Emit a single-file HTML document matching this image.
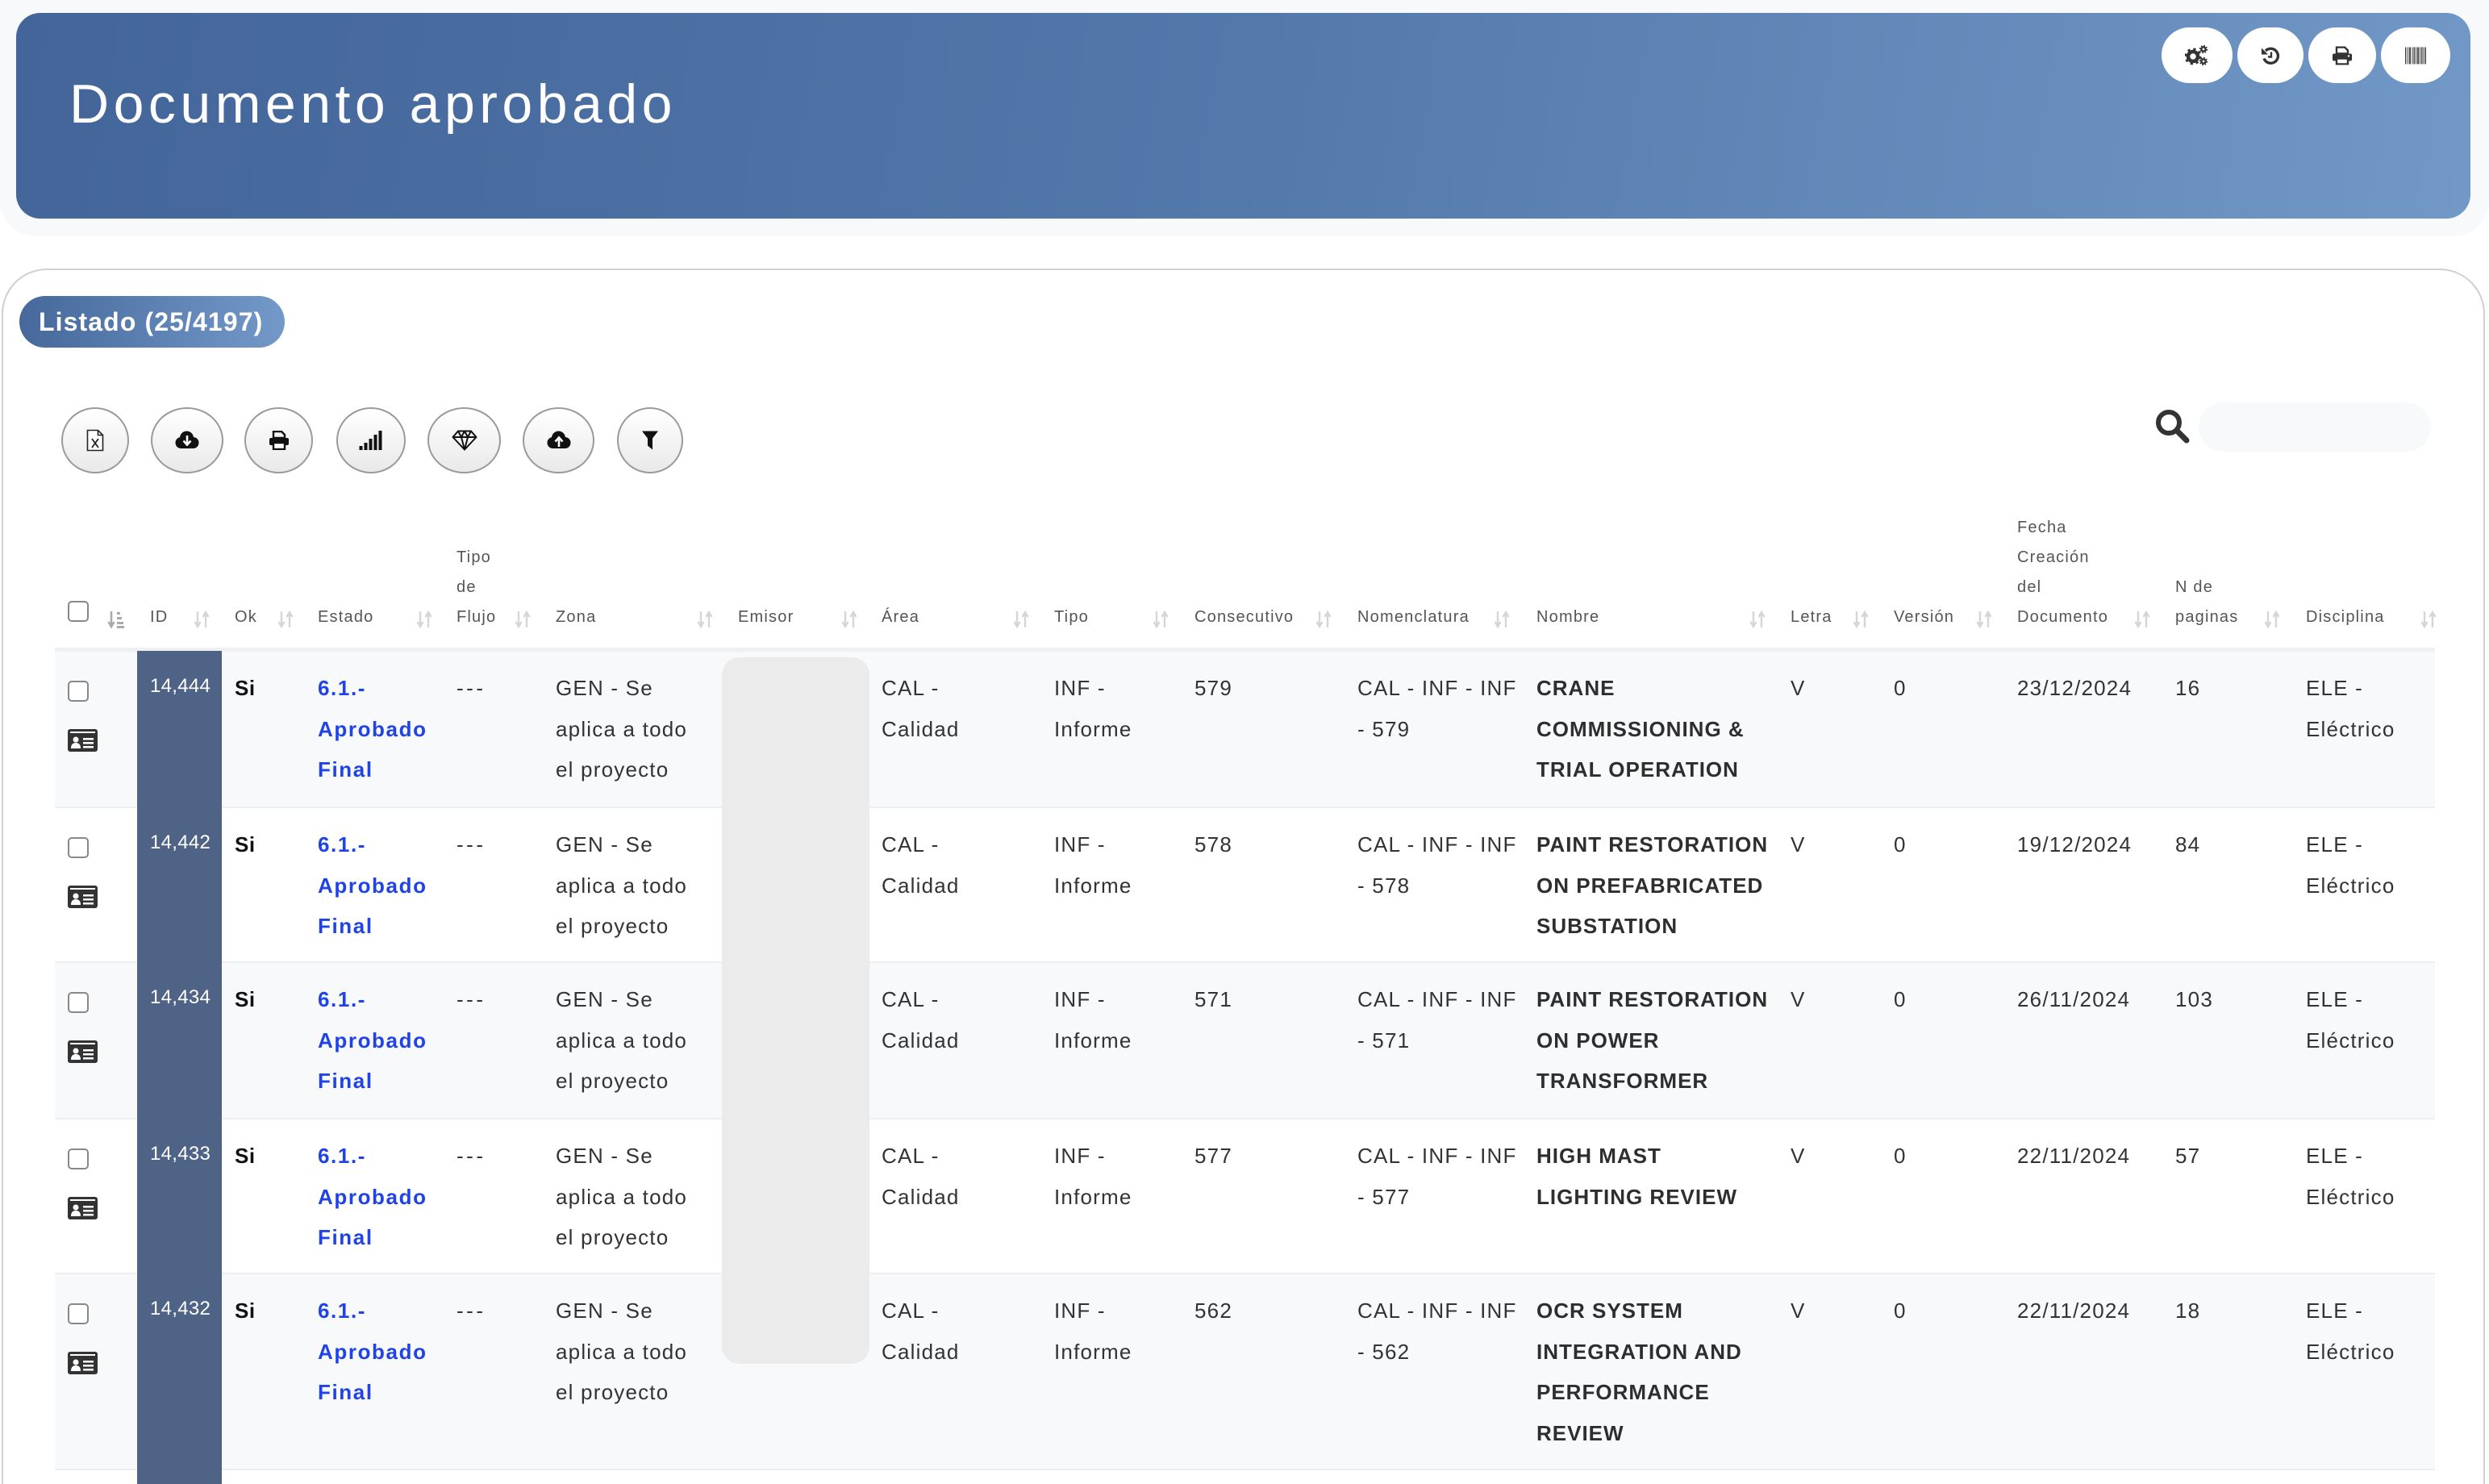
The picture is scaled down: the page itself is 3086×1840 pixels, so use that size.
<!DOCTYPE html>
<html style="overflow:hidden"><head><meta charset="utf-8">
<style>
html,body{margin:0;padding:0;overflow:hidden;width:3086px;height:1840px}
body{background:#fff;font-family:"Liberation Sans",sans-serif}
#root{position:relative;width:3086px;height:1840px;overflow:hidden;background:#fff}
.abs{position:absolute}
.h{position:absolute;font-size:20px;line-height:37px;color:#555;letter-spacing:1.2px;white-space:nowrap}
.s{position:absolute;top:757px}
.row{position:absolute;left:68px;width:2951px;box-sizing:border-box;border-bottom:2px solid #eceef1}
.odd{background:#f8f9fb}
.t{position:absolute;top:20px;font-size:26px;line-height:50.5px;color:#333;letter-spacing:1.2px;white-space:nowrap;z-index:2}
.si{font-weight:bold;color:#111;letter-spacing:0.5px}
.blue{color:#1f43e6;font-weight:bold;letter-spacing:1.6px}
.nm{font-weight:bold;color:#2e2e2e;letter-spacing:1px}
.id{font-size:24px;color:#fff;top:18px;letter-spacing:0.3px}
.dash{letter-spacing:3.5px}
.cb{position:absolute;left:16px;top:36px;width:22px;height:22px;border:2px solid #888;border-radius:5px;background:#fff;z-index:2}
.card{position:absolute;left:16px;top:96px;z-index:2}
.tb{position:absolute;top:505px;height:82px;border-radius:50%;box-sizing:border-box;border:2px solid #9a9a9a;background:linear-gradient(#ffffff,#e9e9e9)}
.tb svg{position:absolute;left:50%;top:50%;transform:translate(-50%,-50%)}
.hb{position:absolute;top:34px;height:69px;border-radius:35px;background:#fff}
.hb svg{position:absolute;left:50%;top:50%;transform:translate(-50%,-50%)}
</style></head><body><div id="root">

<!-- top header -->
<div class="abs" style="left:0;top:0;width:3086px;height:293px;background:#f7f9fb;border-radius:0 0 44px 44px"></div>
<div class="abs" style="left:20px;top:16px;width:3043px;height:255px;border-radius:30px;background:linear-gradient(100deg,#43659a 0%,#5378aa 50%,#7298c7 100%)"></div>
<div class="abs" style="left:86px;top:95px;font-size:68px;line-height:68px;color:#fff;letter-spacing:5.5px;white-space:nowrap">Documento aprobado</div>

<div class="hb" style="left:2680px;width:88px">
<svg width="30" height="26" viewBox="0 0 30 26"><circle cx="10" cy="14" r="6" fill="none" stroke="#333" stroke-width="4.5"/><circle cx="10" cy="14" r="9" fill="none" stroke="#333" stroke-width="3" stroke-dasharray="3.2 3.87"/><circle cx="23" cy="5" r="2.6" fill="none" stroke="#333" stroke-width="2.4"/><circle cx="23" cy="5" r="4.3" fill="none" stroke="#333" stroke-width="1.8" stroke-dasharray="1.7 1.68"/><circle cx="23" cy="20" r="2.6" fill="none" stroke="#333" stroke-width="2.4"/><circle cx="23" cy="20" r="4.3" fill="none" stroke="#333" stroke-width="1.8" stroke-dasharray="1.7 1.68"/></svg>
</div>
<div class="hb" style="left:2774px;width:82px">
<svg width="24" height="23" viewBox="0 0 24 23"><path d="M6 5.5A9 9 0 1 1 4 15" fill="none" stroke="#333" stroke-width="3.4"/><path d="M1 2v8h8z" fill="#333"/><path d="M13 7v6h-4" fill="none" stroke="#333" stroke-width="2.4"/></svg>
</div>
<div class="hb" style="left:2862px;width:84px">
<svg width="26" height="23" viewBox="0 0 26 23"><path d="M6 1h10l4 4v4H6z" fill="none" stroke="#333" stroke-width="2.4"/><rect x="1" y="9" width="24" height="9" rx="2" fill="#333"/><rect x="6" y="15" width="14" height="7" fill="#fff" stroke="#333" stroke-width="2.4"/><circle cx="21" cy="12" r="1.2" fill="#fff"/></svg>
</div>
<div class="hb" style="left:2952px;width:86px">
<svg width="26" height="21" viewBox="0 0 26 21"><g fill="#444"><rect x="0" y="0" width="1.5" height="21"/><rect x="3" y="0" width="1" height="21"/><rect x="5" y="0" width="2" height="21"/><rect x="8.5" y="0" width="1" height="21"/><rect x="10.5" y="0" width="1.5" height="21"/><rect x="13" y="0" width="1" height="21"/><rect x="15" y="0" width="2" height="21"/><rect x="18" y="0" width="1" height="21"/><rect x="20" y="0" width="1.5" height="21"/><rect x="22.5" y="0" width="1" height="21"/><rect x="24.5" y="0" width="1.5" height="21"/></g></svg>
</div>

<!-- card -->
<div class="abs" style="left:2px;top:333px;width:3079px;height:1560px;box-sizing:border-box;border:2px solid #d0d0d0;border-radius:56px"></div>
<div class="abs" style="left:24px;top:367px;width:329px;height:64px;border-radius:32px;background:linear-gradient(90deg,#46689b,#7399c9)"></div>
<div class="abs" style="left:48px;top:367px;font-size:32px;line-height:64px;font-weight:bold;color:#fff;letter-spacing:1.1px;white-space:nowrap">Listado (25/4197)</div>

<!-- toolbar -->
<div class="tb" style="left:76px;width:84px">
<svg width="22" height="28" viewBox="0 0 22 28"><path d="M1.5 1.5h13l6 6v19h-19z" fill="#fff" stroke="#222" stroke-width="1.6"/><path d="M14.5 1.5v6h6" fill="none" stroke="#222" stroke-width="1.6"/><path d="M7 12l8 11M15 12l-8 11" stroke="#222" stroke-width="1.8"/></svg>
</div>
<div class="tb" style="left:187px;width:90px">
<svg width="31" height="24" viewBox="0 0 31 24"><g fill="#111"><circle cx="8" cy="15" r="7"/><circle cx="15" cy="9" r="8.5"/><circle cx="23" cy="15" r="7"/><rect x="8" y="14" width="15" height="8"/></g><path d="M15.5 6v11M11 12.5l4.5 5 4.5-5" fill="none" stroke="#fff" stroke-width="2.6"/></svg>
</div>
<div class="tb" style="left:303px;width:85px">
<svg width="24" height="24" viewBox="0 0 24 24"><path d="M5 1h10l4 4v4H5z" fill="none" stroke="#111" stroke-width="2.4"/><rect x="0" y="9" width="24" height="9" rx="2" fill="#111"/><rect x="5" y="15" width="14" height="8" fill="#fff" stroke="#111" stroke-width="2.4"/></svg>
</div>
<div class="tb" style="left:417px;width:86px">
<svg width="29" height="24" viewBox="0 0 29 24"><g fill="#111"><rect x="0" y="19" width="4" height="5"/><rect x="6" y="15" width="4" height="9"/><rect x="12" y="10" width="4" height="14"/><rect x="18" y="5" width="4" height="19"/><rect x="24" y="0" width="4" height="24"/></g></svg>
</div>
<div class="tb" style="left:530px;width:91px">
<svg width="32" height="26" viewBox="0 0 32 26"><path d="M8 1.5h16l6.5 7.5L16 24.5 1.5 9z M1.5 9h29 M8 1.5l4 7.5 4-7.5 4 7.5 4-7.5 M12 9l4 15.5 4-15.5" fill="none" stroke="#111" stroke-width="2" stroke-linejoin="round"/></svg>
</div>
<div class="tb" style="left:648px;width:89px">
<svg width="31" height="24" viewBox="0 0 31 24"><g fill="#111"><circle cx="8" cy="15" r="7"/><circle cx="15" cy="9" r="8.5"/><circle cx="23" cy="15" r="7"/><rect x="8" y="14" width="15" height="8"/></g><path d="M15.5 20V9M11 13.5l4.5-5 4.5 5" fill="none" stroke="#fff" stroke-width="2.6"/></svg>
</div>
<div class="tb" style="left:765px;width:82px">
<svg width="20" height="23" viewBox="0 0 20 23"><path d="M0 0h20l-7 9v14l-6-5V9z" fill="#111"/></svg>
</div>

<!-- search -->
<svg class="abs" style="left:2670px;top:505px" width="48" height="48" viewBox="0 0 48 48"><circle cx="19" cy="19" r="13" fill="none" stroke="#333" stroke-width="6"/><path d="M29 29l12 12" stroke="#333" stroke-width="7" stroke-linecap="round"/></svg>
<div class="abs" style="left:2726px;top:499px;width:288px;height:61px;border-radius:31px;background:#f7f9fb"></div>

<!-- table header -->
<div class="abs" style="left:84px;top:745px;width:22px;height:22px;border:2px solid #888;border-radius:5px;background:#fff"></div>
<svg class="s" style="left:133px" width="22" height="22" viewBox="0 0 22 22"><path d="M5 1v17M1.5 14l3.5 6 3.5-6" fill="none" stroke="#aaa" stroke-width="2.6"/><g fill="#aaa"><rect x="12" y="2" width="4" height="3"/><rect x="12" y="8" width="6" height="3"/><rect x="12" y="14" width="8" height="3"/><rect x="12" y="19" width="9" height="3"/></g></svg>

<div class="h" style="left:186px;top:746.6px">ID</div>
<div class="h" style="left:291px;top:746.6px">Ok</div>
<div class="h" style="left:394px;top:746.6px">Estado</div>
<div class="h" style="left:566px;top:672.6px">Tipo<br>de<br>Flujo</div>
<div class="h" style="left:689px;top:746.6px">Zona</div>
<div class="h" style="left:915px;top:746.6px">Emisor</div>
<div class="h" style="left:1093px;top:746.6px">Área</div>
<div class="h" style="left:1307px;top:746.6px">Tipo</div>
<div class="h" style="left:1481px;top:746.6px">Consecutivo</div>
<div class="h" style="left:1683px;top:746.6px">Nomenclatura</div>
<div class="h" style="left:1905px;top:746.6px">Nombre</div>
<div class="h" style="left:2220px;top:746.6px">Letra</div>
<div class="h" style="left:2348px;top:746.6px">Versión</div>
<div class="h" style="left:2501px;top:635.6px">Fecha<br>Creación<br>del<br>Documento</div>
<div class="h" style="left:2697px;top:709.6px">N de<br>paginas</div>
<div class="h" style="left:2859px;top:746.6px">Disciplina</div>

<svg class="s" style="left:240px" width="20" height="22" viewBox="0 0 20 22"><path d="M5 1v17M1.5 14l3.5 6 3.5-6M15 21V4M11.5 8L15 2l3.5 6" fill="none" stroke="#d6d6d6" stroke-width="2.4"/></svg>
<svg class="s" style="left:344px" width="20" height="22" viewBox="0 0 20 22"><path d="M5 1v17M1.5 14l3.5 6 3.5-6M15 21V4M11.5 8L15 2l3.5 6" fill="none" stroke="#d6d6d6" stroke-width="2.4"/></svg>
<svg class="s" style="left:516px" width="20" height="22" viewBox="0 0 20 22"><path d="M5 1v17M1.5 14l3.5 6 3.5-6M15 21V4M11.5 8L15 2l3.5 6" fill="none" stroke="#d6d6d6" stroke-width="2.4"/></svg>
<svg class="s" style="left:638px" width="20" height="22" viewBox="0 0 20 22"><path d="M5 1v17M1.5 14l3.5 6 3.5-6M15 21V4M11.5 8L15 2l3.5 6" fill="none" stroke="#d6d6d6" stroke-width="2.4"/></svg>
<svg class="s" style="left:864px" width="20" height="22" viewBox="0 0 20 22"><path d="M5 1v17M1.5 14l3.5 6 3.5-6M15 21V4M11.5 8L15 2l3.5 6" fill="none" stroke="#d6d6d6" stroke-width="2.4"/></svg>
<svg class="s" style="left:1043px" width="20" height="22" viewBox="0 0 20 22"><path d="M5 1v17M1.5 14l3.5 6 3.5-6M15 21V4M11.5 8L15 2l3.5 6" fill="none" stroke="#d6d6d6" stroke-width="2.4"/></svg>
<svg class="s" style="left:1256px" width="20" height="22" viewBox="0 0 20 22"><path d="M5 1v17M1.5 14l3.5 6 3.5-6M15 21V4M11.5 8L15 2l3.5 6" fill="none" stroke="#d6d6d6" stroke-width="2.4"/></svg>
<svg class="s" style="left:1429px" width="20" height="22" viewBox="0 0 20 22"><path d="M5 1v17M1.5 14l3.5 6 3.5-6M15 21V4M11.5 8L15 2l3.5 6" fill="none" stroke="#d6d6d6" stroke-width="2.4"/></svg>
<svg class="s" style="left:1631px" width="20" height="22" viewBox="0 0 20 22"><path d="M5 1v17M1.5 14l3.5 6 3.5-6M15 21V4M11.5 8L15 2l3.5 6" fill="none" stroke="#d6d6d6" stroke-width="2.4"/></svg>
<svg class="s" style="left:1852px" width="20" height="22" viewBox="0 0 20 22"><path d="M5 1v17M1.5 14l3.5 6 3.5-6M15 21V4M11.5 8L15 2l3.5 6" fill="none" stroke="#d6d6d6" stroke-width="2.4"/></svg>
<svg class="s" style="left:2169px" width="20" height="22" viewBox="0 0 20 22"><path d="M5 1v17M1.5 14l3.5 6 3.5-6M15 21V4M11.5 8L15 2l3.5 6" fill="none" stroke="#d6d6d6" stroke-width="2.4"/></svg>
<svg class="s" style="left:2297px" width="20" height="22" viewBox="0 0 20 22"><path d="M5 1v17M1.5 14l3.5 6 3.5-6M15 21V4M11.5 8L15 2l3.5 6" fill="none" stroke="#d6d6d6" stroke-width="2.4"/></svg>
<svg class="s" style="left:2450px" width="20" height="22" viewBox="0 0 20 22"><path d="M5 1v17M1.5 14l3.5 6 3.5-6M15 21V4M11.5 8L15 2l3.5 6" fill="none" stroke="#d6d6d6" stroke-width="2.4"/></svg>
<svg class="s" style="left:2646px" width="20" height="22" viewBox="0 0 20 22"><path d="M5 1v17M1.5 14l3.5 6 3.5-6M15 21V4M11.5 8L15 2l3.5 6" fill="none" stroke="#d6d6d6" stroke-width="2.4"/></svg>
<svg class="s" style="left:2807px" width="20" height="22" viewBox="0 0 20 22"><path d="M5 1v17M1.5 14l3.5 6 3.5-6M15 21V4M11.5 8L15 2l3.5 6" fill="none" stroke="#d6d6d6" stroke-width="2.4"/></svg>
<svg class="s" style="left:3001px" width="20" height="22" viewBox="0 0 20 22"><path d="M5 1v17M1.5 14l3.5 6 3.5-6M15 21V4M11.5 8L15 2l3.5 6" fill="none" stroke="#d6d6d6" stroke-width="2.4"/></svg>

<div class="abs" style="left:68px;top:803px;width:2951px;height:5px;background:#eff0f2"></div>

<!-- rows -->
<div class="row odd" style="top:808px;height:194px">
  <div class="cb"></div>
  <svg class="card" width="37" height="28" viewBox="0 0 37 28"><rect width="37" height="28" rx="3" fill="#333"/><rect x="3" y="3" width="31" height="2" fill="#fff"/><circle cx="10" cy="13" r="3.5" fill="#fff"/><path d="M4 24q0-7 6-7q6 0 6 7z" fill="#fff"/><rect x="19" y="11" width="13" height="2.5" fill="#fff"/><rect x="19" y="16" width="13" height="2.5" fill="#fff"/><rect x="19" y="21" width="13" height="2.5" fill="#fff"/></svg>
  <div class="t id" style="left:118px">14,444</div>
  <div class="t si" style="left:223px">Si</div>
  <div class="t blue" style="left:326px">6.1.-<br>Aprobado<br>Final</div>
  <div class="t dash" style="left:498px">---</div>
  <div class="t" style="left:621px">GEN - Se<br>aplica a todo<br>el proyecto</div>
  <div class="t" style="left:1025px">CAL -<br>Calidad</div>
  <div class="t" style="left:1239px">INF -<br>Informe</div>
  <div class="t" style="left:1413px">579</div>
  <div class="t" style="left:1615px">CAL - INF - INF<br>- 579</div>
  <div class="t nm" style="left:1837px">CRANE<br>COMMISSIONING &amp;<br>TRIAL OPERATION</div>
  <div class="t" style="left:2152px">V</div>
  <div class="t" style="left:2280px">0</div>
  <div class="t" style="left:2433px">23/12/2024</div>
  <div class="t" style="left:2629px">16</div>
  <div class="t" style="left:2791px">ELE -<br>Eléctrico</div>
</div>

<div class="row" style="top:1002px;height:192px">
  <div class="cb"></div>
  <svg class="card" width="37" height="28" viewBox="0 0 37 28"><rect width="37" height="28" rx="3" fill="#333"/><rect x="3" y="3" width="31" height="2" fill="#fff"/><circle cx="10" cy="13" r="3.5" fill="#fff"/><path d="M4 24q0-7 6-7q6 0 6 7z" fill="#fff"/><rect x="19" y="11" width="13" height="2.5" fill="#fff"/><rect x="19" y="16" width="13" height="2.5" fill="#fff"/><rect x="19" y="21" width="13" height="2.5" fill="#fff"/></svg>
  <div class="t id" style="left:118px">14,442</div>
  <div class="t si" style="left:223px">Si</div>
  <div class="t blue" style="left:326px">6.1.-<br>Aprobado<br>Final</div>
  <div class="t dash" style="left:498px">---</div>
  <div class="t" style="left:621px">GEN - Se<br>aplica a todo<br>el proyecto</div>
  <div class="t" style="left:1025px">CAL -<br>Calidad</div>
  <div class="t" style="left:1239px">INF -<br>Informe</div>
  <div class="t" style="left:1413px">578</div>
  <div class="t" style="left:1615px">CAL - INF - INF<br>- 578</div>
  <div class="t nm" style="left:1837px">PAINT RESTORATION<br>ON PREFABRICATED<br>SUBSTATION</div>
  <div class="t" style="left:2152px">V</div>
  <div class="t" style="left:2280px">0</div>
  <div class="t" style="left:2433px">19/12/2024</div>
  <div class="t" style="left:2629px">84</div>
  <div class="t" style="left:2791px">ELE -<br>Eléctrico</div>
</div>

<div class="row odd" style="top:1194px;height:194px">
  <div class="cb"></div>
  <svg class="card" width="37" height="28" viewBox="0 0 37 28"><rect width="37" height="28" rx="3" fill="#333"/><rect x="3" y="3" width="31" height="2" fill="#fff"/><circle cx="10" cy="13" r="3.5" fill="#fff"/><path d="M4 24q0-7 6-7q6 0 6 7z" fill="#fff"/><rect x="19" y="11" width="13" height="2.5" fill="#fff"/><rect x="19" y="16" width="13" height="2.5" fill="#fff"/><rect x="19" y="21" width="13" height="2.5" fill="#fff"/></svg>
  <div class="t id" style="left:118px">14,434</div>
  <div class="t si" style="left:223px">Si</div>
  <div class="t blue" style="left:326px">6.1.-<br>Aprobado<br>Final</div>
  <div class="t dash" style="left:498px">---</div>
  <div class="t" style="left:621px">GEN - Se<br>aplica a todo<br>el proyecto</div>
  <div class="t" style="left:1025px">CAL -<br>Calidad</div>
  <div class="t" style="left:1239px">INF -<br>Informe</div>
  <div class="t" style="left:1413px">571</div>
  <div class="t" style="left:1615px">CAL - INF - INF<br>- 571</div>
  <div class="t nm" style="left:1837px">PAINT RESTORATION<br>ON POWER<br>TRANSFORMER</div>
  <div class="t" style="left:2152px">V</div>
  <div class="t" style="left:2280px">0</div>
  <div class="t" style="left:2433px">26/11/2024</div>
  <div class="t" style="left:2629px">103</div>
  <div class="t" style="left:2791px">ELE -<br>Eléctrico</div>
</div>

<div class="row" style="top:1388px;height:192px">
  <div class="cb"></div>
  <svg class="card" width="37" height="28" viewBox="0 0 37 28"><rect width="37" height="28" rx="3" fill="#333"/><rect x="3" y="3" width="31" height="2" fill="#fff"/><circle cx="10" cy="13" r="3.5" fill="#fff"/><path d="M4 24q0-7 6-7q6 0 6 7z" fill="#fff"/><rect x="19" y="11" width="13" height="2.5" fill="#fff"/><rect x="19" y="16" width="13" height="2.5" fill="#fff"/><rect x="19" y="21" width="13" height="2.5" fill="#fff"/></svg>
  <div class="t id" style="left:118px">14,433</div>
  <div class="t si" style="left:223px">Si</div>
  <div class="t blue" style="left:326px">6.1.-<br>Aprobado<br>Final</div>
  <div class="t dash" style="left:498px">---</div>
  <div class="t" style="left:621px">GEN - Se<br>aplica a todo<br>el proyecto</div>
  <div class="t" style="left:1025px">CAL -<br>Calidad</div>
  <div class="t" style="left:1239px">INF -<br>Informe</div>
  <div class="t" style="left:1413px">577</div>
  <div class="t" style="left:1615px">CAL - INF - INF<br>- 577</div>
  <div class="t nm" style="left:1837px">HIGH MAST<br>LIGHTING REVIEW</div>
  <div class="t" style="left:2152px">V</div>
  <div class="t" style="left:2280px">0</div>
  <div class="t" style="left:2433px">22/11/2024</div>
  <div class="t" style="left:2629px">57</div>
  <div class="t" style="left:2791px">ELE -<br>Eléctrico</div>
</div>

<div class="row odd" style="top:1580px;height:243px">
  <div class="cb"></div>
  <svg class="card" width="37" height="28" viewBox="0 0 37 28"><rect width="37" height="28" rx="3" fill="#333"/><rect x="3" y="3" width="31" height="2" fill="#fff"/><circle cx="10" cy="13" r="3.5" fill="#fff"/><path d="M4 24q0-7 6-7q6 0 6 7z" fill="#fff"/><rect x="19" y="11" width="13" height="2.5" fill="#fff"/><rect x="19" y="16" width="13" height="2.5" fill="#fff"/><rect x="19" y="21" width="13" height="2.5" fill="#fff"/></svg>
  <div class="t id" style="left:118px">14,432</div>
  <div class="t si" style="left:223px">Si</div>
  <div class="t blue" style="left:326px">6.1.-<br>Aprobado<br>Final</div>
  <div class="t dash" style="left:498px">---</div>
  <div class="t" style="left:621px">GEN - Se<br>aplica a todo<br>el proyecto</div>
  <div class="t" style="left:1025px">CAL -<br>Calidad</div>
  <div class="t" style="left:1239px">INF -<br>Informe</div>
  <div class="t" style="left:1413px">562</div>
  <div class="t" style="left:1615px">CAL - INF - INF<br>- 562</div>
  <div class="t nm" style="left:1837px">OCR SYSTEM<br>INTEGRATION AND<br>PERFORMANCE<br>REVIEW</div>
  <div class="t" style="left:2152px">V</div>
  <div class="t" style="left:2280px">0</div>
  <div class="t" style="left:2433px">22/11/2024</div>
  <div class="t" style="left:2629px">18</div>
  <div class="t" style="left:2791px">ELE -<br>Eléctrico</div>
</div>

<!-- overlays -->
<div class="abs" style="left:170px;top:807px;width:105px;height:1033px;background:#4f6386;z-index:1"></div>
<div class="abs" style="left:895px;top:815px;width:183px;height:876px;border-radius:22px;background:#ebebeb;z-index:1"></div>

</div></body></html>
